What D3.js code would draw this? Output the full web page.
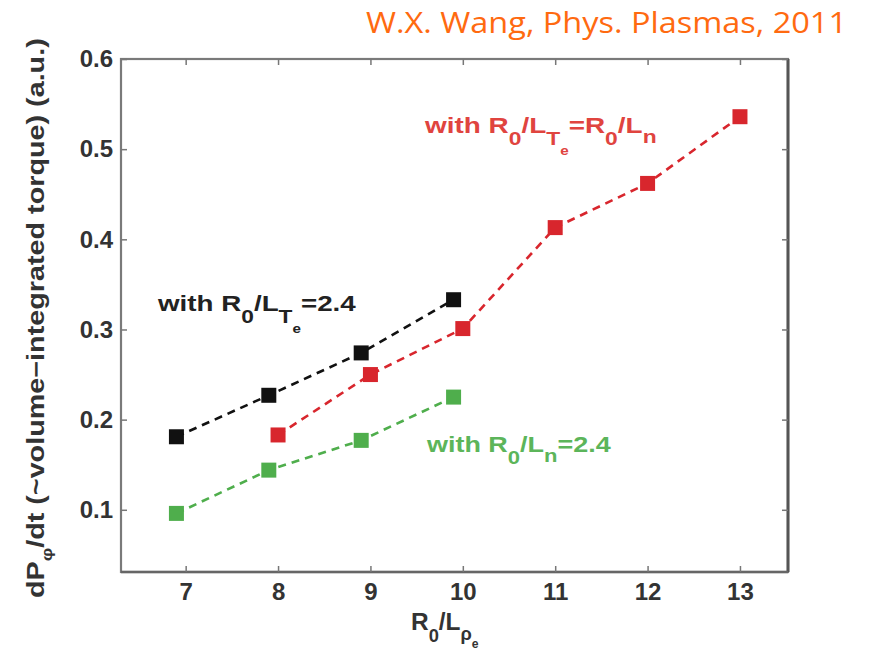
<!DOCTYPE html>
<html>
<head>
<meta charset="utf-8">
<script src="https://cdn.jsdelivr.net/npm/d3@7"></script>
<style>
  html, body { margin: 0; padding: 0; background: #fff; }
  svg { display: block; }
</style>
</head>
<body>
<svg id="chart" width="870" height="650"></svg>
<script>
// ---- data ----
const xTicks = [7, 8, 9, 10, 11, 12, 13];
const yTicks = [0.1, 0.2, 0.3, 0.4, 0.5, 0.6];

const blackX = [6.9, 7.9, 8.9, 9.9];
const blackY = [0.181, 0.227, 0.274, 0.333];

const redX = [8, 9, 10, 11, 12, 13];
const redY = [0.183, 0.250, 0.301, 0.413, 0.462, 0.536];

const greenX = [6.9, 7.9, 8.9, 9.9];
const greenY = [0.096, 0.144, 0.177, 0.225];

const seriesColors = { black: "#111111", red: "#d8262d", green: "#4fae4c" };

// ---- layout ----
const svg = d3.select("#chart");
const pL = 121, pR = 788, pT = 59, pB = 572;
const x = d3.scaleLinear().domain([6.3, 13.52]).range([pL, pR]);
const y = d3.scaleLinear().domain([0.031, 0.6]).range([pB, pT]);

const font = "'Liberation Sans', Arial, Helvetica, sans-serif";
const axisColor = "#7a7a7a";

// frame (box)
svg.append("rect")
  .attr("x", pL).attr("y", pT)
  .attr("width", pR - pL).attr("height", pB - pT)
  .attr("fill", "none").attr("stroke", axisColor).attr("stroke-width", 2.2);
svg.append("line")
  .attr("x1", pR).attr("x2", pR).attr("y1", pT).attr("y2", pB)
  .attr("stroke", "#555").attr("stroke-width", 3);
svg.append("line")
  .attr("x1", pL).attr("x2", pR).attr("y1", pB).attr("y2", pB)
  .attr("stroke", "#666").attr("stroke-width", 2.4);

function styleAxis(g, showText) {
  g.select(".domain").remove();
  g.selectAll(".tick line").attr("stroke", "#777").attr("stroke-width", 1.5);
  g.selectAll(".tick text")
    .attr("fill", "#333")
    .style("font-family", font)
    .style("font-size", "24px")
    .style("font-weight", "bold")
    .style("display", showText ? null : "none");
}

// bottom axis
svg.append("g")
  .attr("transform", `translate(0,${pB})`)
  .call(d3.axisBottom(x).tickValues(xTicks).tickSizeInner(-6).tickSizeOuter(0).tickPadding(11).tickFormat(d3.format("d")))
  .call(g => styleAxis(g, true));
// top axis ticks
svg.append("g")
  .attr("transform", `translate(0,${pT})`)
  .call(d3.axisTop(x).tickValues(xTicks).tickSizeInner(-6).tickSizeOuter(0))
  .call(g => styleAxis(g, false));
// left axis
svg.append("g")
  .attr("transform", `translate(${pL},0)`)
  .call(d3.axisLeft(y).tickValues(yTicks).tickSizeInner(-6).tickSizeOuter(0).tickPadding(8).tickFormat(d3.format(".1f")))
  .call(g => styleAxis(g, true));
// right axis ticks
svg.append("g")
  .attr("transform", `translate(${pR},0)`)
  .call(d3.axisRight(y).tickValues(yTicks).tickSizeInner(-6).tickSizeOuter(0))
  .call(g => styleAxis(g, false));

// ---- series ----
const line = d3.line().x(d => x(d[0])).y(d => y(d[1]));
const markerSize = 15;
function drawSeries(xs, ys, color) {
  const pts = xs.map((v, i) => [v, ys[i]]);
  svg.append("path")
    .datum(pts)
    .attr("d", line)
    .attr("fill", "none")
    .attr("stroke", color)
    .attr("stroke-width", 2.6)
    .attr("stroke-dasharray", "8,6");
  svg.append("g").selectAll("rect")
    .data(pts).join("rect")
    .attr("x", d => x(d[0]) - markerSize / 2)
    .attr("y", d => y(d[1]) - markerSize / 2)
    .attr("width", markerSize).attr("height", markerSize)
    .attr("fill", color);
}
drawSeries(blackX, blackY, seriesColors.black);
drawSeries(redX, redY, seriesColors.red);
drawSeries(greenX, greenY, seriesColors.green);

// ---- annotations ----
// rich text with sub/subscripts; horizontally fitted to the given width
function richText(parent, xPos, yPos, parts, color, size, targetW) {
  const g = parent.append("g");
  const t = g.append("text")
    .attr("x", 0).attr("y", 0)
    .attr("fill", color)
    .style("font-family", font)
    .style("font-size", size + "px")
    .style("font-weight", "bold");
  let cur = 0;
  parts.forEach(p => {
    const off = p.off || 0;
    t.append("tspan")
      .attr("dy", off - cur)
      .style("font-size", (p.size || size) + "px")
      .text(p.t);
    cur = off;
  });
  let sx = 1;
  if (targetW) {
    const w = t.node().getBBox().width;
    if (w > 0) sx = targetW / w;
  }
  g.attr("transform", `translate(${xPos},${yPos}) scale(${sx},1)`);
  return g;
}

richText(svg, 158, 311, [
  { t: "with R" },
  { t: "0", off: 12, size: 18 },
  { t: "/L" },
  { t: "T", off: 12, size: 18 },
  { t: "e", off: 22, size: 12 },
  { t: "=2.4" }
], "#222", 22, 200);

richText(svg, 425, 133, [
  { t: "with R" },
  { t: "0", off: 12, size: 18 },
  { t: "/L" },
  { t: "T", off: 12, size: 18 },
  { t: "e", off: 22, size: 12 },
  { t: "=R" },
  { t: "0", off: 12, size: 18 },
  { t: "/L" },
  { t: "n", off: 10, size: 18 }
], "#e0443f", 22, 233);

richText(svg, 427, 452, [
  { t: "with R" },
  { t: "0", off: 12, size: 18 },
  { t: "/L" },
  { t: "n", off: 10, size: 18 }, 
  { t: "=2.4" }
], "#5cb55a", 22, 186);

// x axis label
richText(svg, 411, 630, [
  { t: "R" },
  { t: "0", off: 12, size: 18 },
  { t: "/L" },
  { t: "ρ", off: 10, size: 18 },
  { t: "e", off: 18, size: 12 }
], "#333", 24, 68);

// y axis label (rotated)
const yl = svg.append("g").attr("transform", "translate(44,598) rotate(-90)");
richText(yl, 0, 0, [
  { t: "dP" },
  { t: "φ", off: 8, size: 15 },
  { t: "/dt (~volume−integrated torque) (a.u.)" }
], "#333", 23, 560);

// source note
svg.append("text")
  .attr("x", 366).attr("y", 33)
  .attr("fill", "#ff6a10")
  .attr("textLength", 481)
  .attr("lengthAdjust", "spacingAndGlyphs")
  .style("font-family", "'Open Sans', Lato, sans-serif")
  .style("font-size", "29px")
  .text("W.X. Wang, Phys. Plasmas, 2011");
</script>
</body>
</html>
